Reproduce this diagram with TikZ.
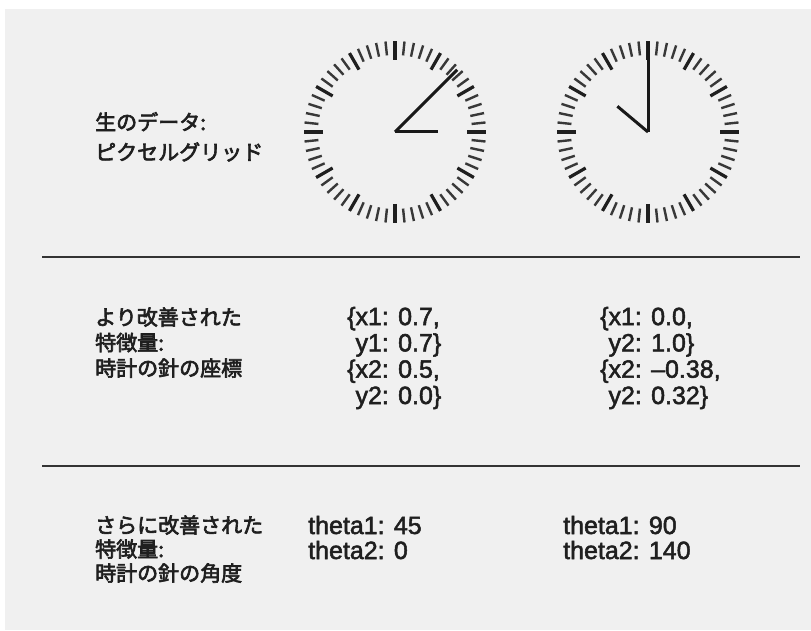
\documentclass[tikz,border=0pt]{standalone}
\usepackage{fontspec}
\setmainfont[FakeBold=2]{Liberation Sans}
\newfontfamily\jpfont[FakeBold=3]{Noto Sans CJK JP}
\tikzset{
	minortick/.style={line width=2.4pt, black!78},
	majortick/.style={line width=3.2pt, black!88},
	hand/.style={line width=3pt, black!90},
	rule/.style={line width=2.4pt, black!80},
	jplabel/.style={anchor=base west, align=left, inner sep=0pt, text=black!88,
		font=\jpfont\fontsize{21}{#1}\selectfont},
	value/.style={anchor=base west, align=left, inner sep=0pt, text=black!88,
		font=\fontsize{25}{#1}\selectfont},
}
\begin{document}
\begin{tikzpicture}[x=1pt, y=1pt]
		\useasboundingbox (0, 0) rectangle (811, 630);
		\fill[white] (0, 0) rectangle (811, 630);
		\fill[black!6] (5, 0) rectangle (811, 621);
		% the two clock faces
		\coordinate (clockA) at (395, 498);
		\coordinate (clockB) at (648, 498);
		\foreach \c in {clockA, clockB} {
			\foreach \a in {0, 6, ..., 354}
				\draw[minortick] (\c) ++(\a:77) -- ++(\a:14);
			\foreach \a in {0, 30, ..., 330}
				\draw[majortick] (\c) ++(\a:72) -- ++(\a:19);
		}
		\draw[hand] (clockA) -- ++(45:88);
		\draw[hand] (clockA) -- ++(0:43);
		\draw[hand] (clockB) -- ++(90:90);
		\draw[hand] (clockB) -- ++(140:40);
		% separators
		\draw[rule] (42, 373) -- (800, 373);
		\draw[rule] (42, 164) -- (800, 164);
		% labels (anchored on the baseline of their last line)
		\node[jplabel=30] (rawlbl) at (95, 470) {生のデータ:\\ピクセルグリッド};
		\node[jplabel=25.5] (coordlbl) at (95, 254) {より改善された\\特徴量:\\時計の針の座標};
		\node[jplabel=24] (anglelbl) at (95, 49) {さらに改善された\\特徴量:\\時計の針の角度};
		\node[value=26.3] (coordA) at (347, 226) {\{x1: 0.7,\\\phantom{\{}y1: 0.7\}\\\{x2: 0.5,\\\phantom{\{}y2: 0.0\}};
		\node[value=26.3] (coordB) at (600, 226) {\{x1: 0.0,\\\phantom{\{}y2: 1.0\}\\\{x2: –0.38,\\\phantom{\{}y2: 0.32\}};
		\node[value=25] (angleA) at (308, 71) {theta1: 45\\theta2: 0};
		\node[value=25] (angleB) at (563, 71) {theta1: 90\\theta2: 140};
	\end{tikzpicture}
\end{document}
